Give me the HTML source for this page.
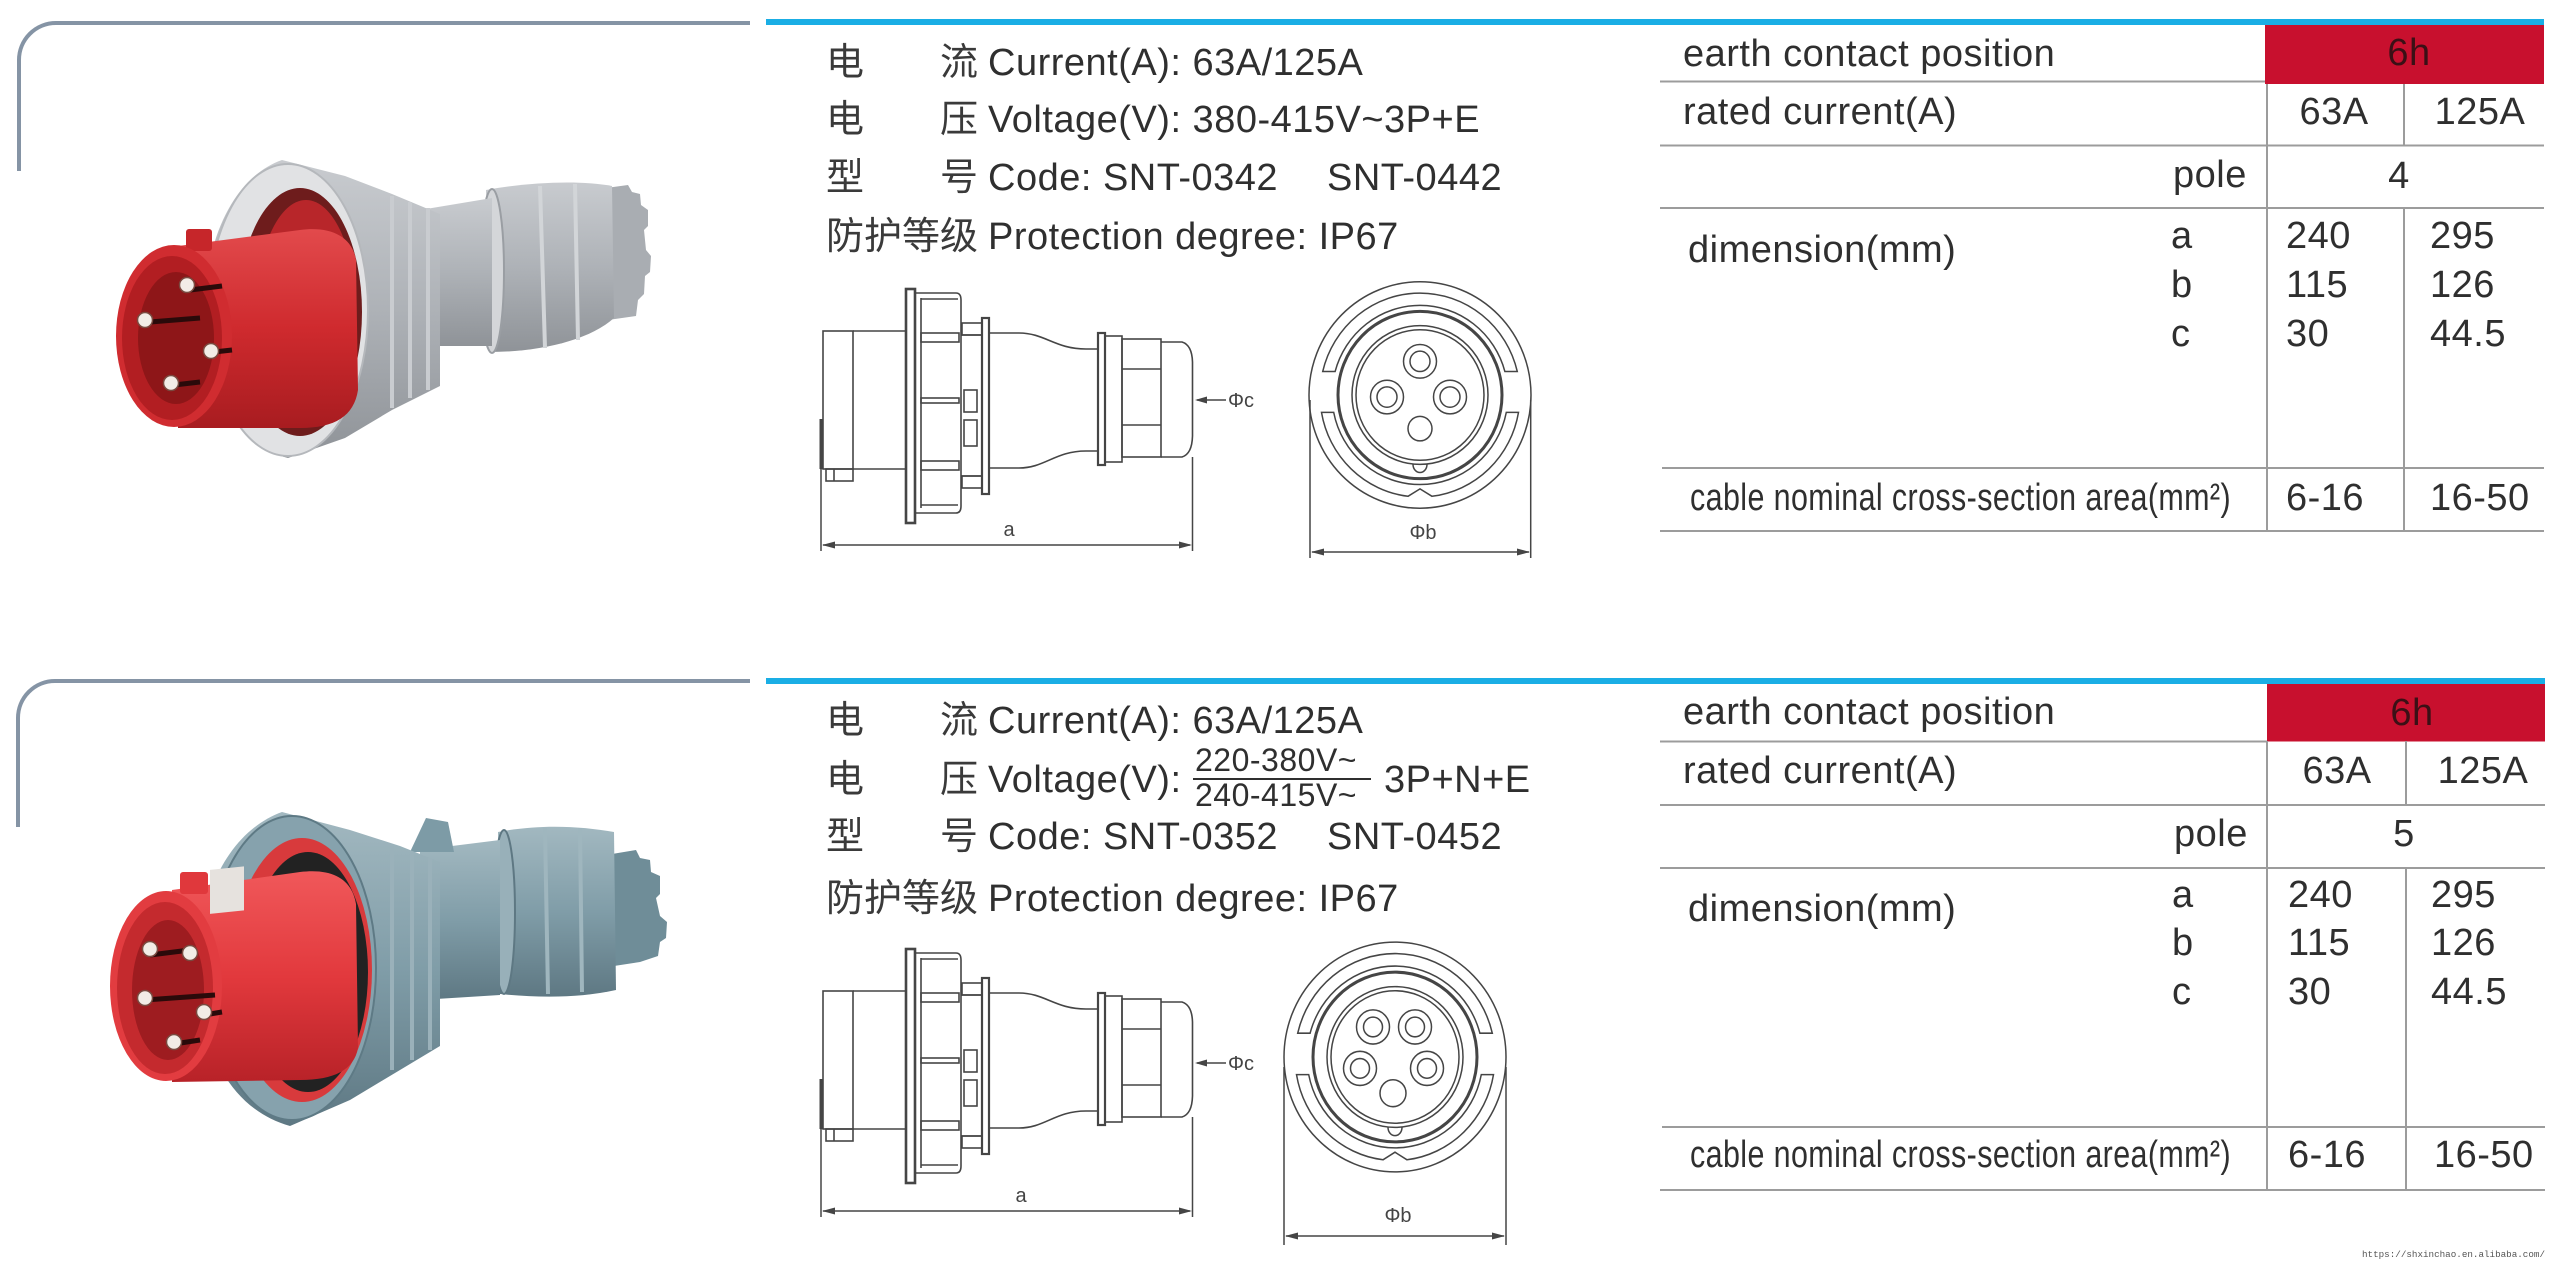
<!DOCTYPE html>
<html>
<head>
<meta charset="utf-8">
<style>
  html,body{margin:0;padding:0;background:#fff;}
  body{width:2560px;height:1261px;overflow:hidden;position:relative;}
  svg{position:absolute;left:0;top:0;}
  .t{font-family:"Liberation Sans","Noto Sans CJK SC",sans-serif;font-size:38px;fill:#2f2f2f;letter-spacing:0.5px;}
  .cj{font-family:"Liberation Sans","Noto Sans CJK SC",sans-serif;font-size:38px;fill:#3a3a3a;}
  .sm{font-family:"Liberation Sans",sans-serif;font-size:20px;fill:#444;}
  .mid{text-anchor:middle;}
</style>
</head>
<body>
<svg width="2560" height="1261" viewBox="0 0 2560 1261" xmlns="http://www.w3.org/2000/svg">
  <defs>
    <linearGradient id="gG" x1="0" y1="0" x2="0" y2="1">
      <stop offset="0" stop-color="#c8cbcf"/>
      <stop offset="0.5" stop-color="#aeb2b7"/>
      <stop offset="1" stop-color="#8f9398"/>
    </linearGradient>
    <linearGradient id="gB" x1="0" y1="0" x2="0" y2="1">
      <stop offset="0" stop-color="#a2b8c0"/>
      <stop offset="0.5" stop-color="#809da8"/>
      <stop offset="1" stop-color="#5e7883"/>
    </linearGradient>
    <linearGradient id="gR" x1="0" y1="0" x2="0" y2="1">
      <stop offset="0" stop-color="#e24a4c"/>
      <stop offset="0.5" stop-color="#cf2a2e"/>
      <stop offset="1" stop-color="#a81c20"/>
    </linearGradient>
    <linearGradient id="gR2" x1="0" y1="0" x2="0" y2="1">
      <stop offset="0" stop-color="#f0585a"/>
      <stop offset="0.5" stop-color="#e2393d"/>
      <stop offset="1" stop-color="#b82228"/>
    </linearGradient>
  </defs>

  <!-- ============ FRAMES / HEADER LINES ============ -->
  <path d="M19 171 V60 A37 37 0 0 1 56 23 H750" fill="none" stroke="#8594a5" stroke-width="4"/>
  <path d="M18 827 V718 A37 37 0 0 1 55 681 H750" fill="none" stroke="#8594a5" stroke-width="4"/>
  <rect x="766" y="19" width="1778" height="6" fill="#1aaee5"/>
  <rect x="766" y="678" width="1779" height="6" fill="#1aaee5"/>

  <!-- ============ PLUG 1 (grey/red) ============ -->
  <g>
    <path d="M606 188 L628 185 L632 192 L640 194 L641 205 L648 210 L648 226 L644 230 L646 250 L651 256 L650 272 L645 276 L644 294 L638 300 L636 316 L608 320 Z" fill="#a9adb2"/>
    <path d="M486 190 C530 182 580 180 612 186 L614 318 C590 340 540 352 490 352 Z" fill="url(#gG)"/>
    <path d="M540 186 L545 348 M575 184 L578 340" stroke="#d2d5d8" stroke-width="4" fill="none"/>
    <ellipse cx="492" cy="271" rx="12" ry="82" fill="#d4d6d9" stroke="#9a9ea3" stroke-width="2"/>
    <path d="M420 210 L492 198 L492 346 L420 346 Z" fill="url(#gG)"/>
    <path d="M282 160 C236 176 205 236 205 310 C205 388 238 446 288 458 L345 438 L392 410 L440 386 L440 214 L392 194 L345 176 Z" fill="url(#gG)"/>
    <path d="M392 196 L392 408 M410 202 L410 398 M428 208 L428 390" stroke="#c9ccd0" stroke-width="4" fill="none"/>
    <ellipse cx="288" cy="310" rx="80" ry="146" fill="#e1e2e4" stroke="#b5b8bc" stroke-width="2"/>
    <ellipse cx="300" cy="312" rx="62" ry="124" fill="#6e1c1c"/>
    <ellipse cx="306" cy="312" rx="50" ry="112" fill="#b8262a"/>
    <path d="M178 246 L300 230 C330 226 352 236 356 260 L358 390 C354 416 335 428 300 428 L178 428 Z" fill="url(#gR)"/>
    <rect x="186" y="229" width="26" height="22" rx="3" fill="#c6262a"/>
    <ellipse cx="174" cy="336" rx="58" ry="91" fill="#d02c30"/>
    <ellipse cx="172" cy="338" rx="50" ry="82" fill="#b21e22"/>
    <ellipse cx="176" cy="338" rx="38" ry="66" fill="#8e1618"/>
    <path d="M190 290 L222 286 M150 322 L200 318 M214 352 L232 350 M174 385 L200 382" stroke="#2a0a0a" stroke-width="5"/>
    <circle cx="187" cy="285" r="7.5" fill="#f2ece6" stroke="#7a4a40" stroke-width="1.5"/>
    <circle cx="145" cy="320" r="7.5" fill="#f2ece6" stroke="#7a4a40" stroke-width="1.5"/>
    <circle cx="211" cy="351" r="7.5" fill="#f2ece6" stroke="#7a4a40" stroke-width="1.5"/>
    <circle cx="171" cy="383" r="7.5" fill="#f2ece6" stroke="#7a4a40" stroke-width="1.5"/>
  </g>

  <!-- ============ PLUG 2 (blue-grey/red) ============ -->
  <g>
    <path d="M612 854 L636 850 L640 858 L650 860 L651 872 L660 876 L660 894 L656 898 L660 916 L667 922 L666 938 L660 942 L658 956 L640 962 L614 966 Z" fill="#6f8d98"/>
    <path d="M498 832 C540 824 580 826 614 832 L616 990 C580 998 540 998 500 994 Z" fill="url(#gB)"/>
    <path d="M545 828 L548 994 M580 828 L582 992" stroke="#9fb6be" stroke-width="4" fill="none"/>
    <ellipse cx="504" cy="912" rx="11" ry="82" fill="#98b0b9" stroke="#5e7883" stroke-width="2"/>
    <path d="M420 850 L500 840 L500 995 L420 1000 Z" fill="url(#gB)"/>
    <path d="M410 852 L426 818 L448 822 L454 852 Z" fill="#7d9ba6"/>
    <path d="M282 812 C232 830 198 890 198 968 C198 1050 232 1110 290 1126 L350 1100 L400 1070 L440 1046 L440 862 L400 846 L350 830 Z" fill="url(#gB)"/>
    <path d="M392 846 L392 1070 M412 852 L412 1060 M430 858 L430 1050" stroke="#9ab1ba" stroke-width="4" fill="none"/>
    <ellipse cx="292" cy="968" rx="84" ry="152" fill="#86a2ad" stroke="#5e7a85" stroke-width="2"/>
    <ellipse cx="302" cy="970" rx="70" ry="132" fill="#d83a3c"/>
    <ellipse cx="308" cy="972" rx="60" ry="120" fill="#222"/>
    <path d="M172 890 L300 872 C334 868 352 880 356 904 L358 1048 C354 1070 334 1080 300 1080 L172 1082 Z" fill="url(#gR2)"/>
    <rect x="180" y="872" width="28" height="22" rx="3" fill="#e0383c"/>
    <rect x="210" y="892" width="34" height="44" fill="#e6e2de" transform="skewY(-6)"/>
    <ellipse cx="166" cy="986" rx="56" ry="95" fill="#e23c40"/>
    <ellipse cx="165" cy="988" rx="48" ry="86" fill="#c42a2e"/>
    <ellipse cx="168" cy="990" rx="36" ry="70" fill="#9e1c20"/>
    <path d="M150 955 L190 950 M145 1000 L215 995 M204 1015 L222 1012 M174 1044 L200 1040" stroke="#2a0a0a" stroke-width="5"/>
    <circle cx="150" cy="949" r="7.5" fill="#f2ece6" stroke="#7a4a40" stroke-width="1.5"/>
    <circle cx="190" cy="953" r="7.5" fill="#f2ece6" stroke="#7a4a40" stroke-width="1.5"/>
    <circle cx="145" cy="998" r="7.5" fill="#f2ece6" stroke="#7a4a40" stroke-width="1.5"/>
    <circle cx="204" cy="1012" r="7.5" fill="#f2ece6" stroke="#7a4a40" stroke-width="1.5"/>
    <circle cx="174" cy="1042" r="7.5" fill="#f2ece6" stroke="#7a4a40" stroke-width="1.5"/>
  </g>

  <!-- ============ SIDE DRAWING (top & bottom) ============ -->
  <g id="side" fill="none" stroke="#454545" stroke-width="1.6">
    <rect x="823" y="331" width="30" height="138"/>
    <line x1="853" y1="331" x2="906" y2="331"/>
    <line x1="853" y1="469" x2="906" y2="469"/>
    <rect x="826" y="469" width="27" height="12"/>
    <line x1="834" y1="469" x2="834" y2="481"/>
    <line x1="821" y1="419" x2="821" y2="469" stroke-width="3"/>
    <rect x="906" y="289" width="9" height="234" stroke-width="2.6"/>
    <path d="M915 293 H956 Q961 293 961 300 V506 Q961 513 956 513 H915"/>
    <line x1="921" y1="298" x2="921" y2="508"/>
    <line x1="921" y1="299" x2="958" y2="299"/>
    <rect x="921" y="333" width="38" height="9"/>
    <rect x="921" y="398" width="38" height="5"/>
    <rect x="921" y="461" width="38" height="9"/>
    <line x1="921" y1="505" x2="958" y2="505"/>
    <rect x="962" y="323" width="20" height="12"/>
    <rect x="962" y="476" width="20" height="12"/>
    <line x1="961" y1="335" x2="982" y2="335"/>
    <line x1="961" y1="476" x2="982" y2="476"/>
    <rect x="964" y="390" width="13" height="22"/>
    <rect x="964" y="420" width="13" height="26"/>
    <rect x="982" y="318" width="7" height="176" stroke-width="2.2"/>
    <path d="M989 333 H1019 C1045 333 1055 349 1086 349 H1098"/>
    <path d="M989 468 H1019 C1045 468 1055 451 1086 451 H1098"/>
    <rect x="1098" y="333" width="7" height="132" stroke-width="2.2"/>
    <rect x="1105" y="336" width="17" height="126"/>
    <rect x="1122" y="339" width="39" height="118"/>
    <line x1="1122" y1="369" x2="1161" y2="369"/>
    <line x1="1122" y1="425" x2="1161" y2="425"/>
    <path d="M1161 342 H1182 Q1192 345 1192.5 362 V436 Q1192 454 1182 457 H1161"/>
  </g>
  <use href="#side" transform="translate(0 660)"/>

  <!-- dimension a (top) -->
  <g stroke="#454545" stroke-width="1.5" fill="none">
    <line x1="821" y1="469" x2="821" y2="551"/>
    <line x1="1192.5" y1="457" x2="1192.5" y2="551"/>
    <line x1="823" y1="545" x2="1190" y2="545"/>
    <line x1="1197" y1="400" x2="1226" y2="400"/>
    <!-- bottom -->
    <line x1="821" y1="1129" x2="821" y2="1217"/>
    <line x1="1192.5" y1="1117" x2="1192.5" y2="1217"/>
    <line x1="823" y1="1211" x2="1190" y2="1211"/>
    <line x1="1197" y1="1063" x2="1226" y2="1063"/>
  </g>
  <g fill="#454545">
    <path d="M822 545 L835 541.5 L835 548.5 Z"/>
    <path d="M1192 545 L1179 541.5 L1179 548.5 Z"/>
    <path d="M1195 400 L1207 396.5 L1207 403.5 Z"/>
    <path d="M822 1211 L835 1207.5 L835 1214.5 Z"/>
    <path d="M1192 1211 L1179 1207.5 L1179 1214.5 Z"/>
    <path d="M1195 1063 L1207 1059.5 L1207 1066.5 Z"/>
  </g>
  <text class="sm mid" x="1009" y="536">a</text>
  <text class="sm" x="1228" y="407">Φc</text>
  <text class="sm mid" x="1021" y="1202">a</text>
  <text class="sm" x="1228" y="1070">Φc</text>

  <!-- ============ FRONT CIRCLE (top, 4 pins) ============ -->
  <g fill="none" stroke="#454545" stroke-width="1.5" transform="translate(1420 395) scale(1 1.02)">
    <circle r="111"/>
    <path d="M-97.3 -23 A100 100 0 0 1 97.3 -23 L84.9 -23 A88 88 0 0 0 -84.9 -23 Z"/>
    <path d="M-98.5 17 A100 100 0 0 0 -12 99.3 L0 92 L12 99.3 A100 100 0 0 0 98.5 17 L86.3 17 A88 88 0 0 1 -86.3 17 Z"/>
    <circle r="82" stroke-width="3"/>
    <circle r="68"/>
    <circle r="64"/>
    <circle cx="0" cy="-33" r="16.5"/><circle cx="0" cy="-33" r="10"/>
    <circle cx="-33" cy="2" r="16.5"/><circle cx="-33" cy="2" r="10"/>
    <circle cx="30" cy="2" r="16.5"/><circle cx="30" cy="2" r="10"/>
    <circle cx="0" cy="33" r="12"/>
    <path d="M-7 68 A7 8 0 0 0 7 68"/>
  </g>
  <g stroke="#454545" stroke-width="1.5">
    <line x1="1310" y1="400" x2="1310" y2="558"/>
    <line x1="1530.7" y1="400" x2="1530.7" y2="558"/>
    <line x1="1312" y1="552" x2="1529" y2="552"/>
  </g>
  <g fill="#454545">
    <path d="M1311 552 L1324 548.5 L1324 555.5 Z"/>
    <path d="M1530 552 L1517 548.5 L1517 555.5 Z"/>
  </g>
  <text class="sm mid" x="1423" y="539">Φb</text>

  <!-- ============ FRONT CIRCLE (bottom, 5 pins) ============ -->
  <g fill="none" stroke="#454545" stroke-width="1.5" transform="translate(1395 1057) scale(1 1.035)">
    <circle r="111"/>
    <path d="M-97.3 -23 A100 100 0 0 1 97.3 -23 L84.9 -23 A88 88 0 0 0 -84.9 -23 Z"/>
    <path d="M-98.5 17 A100 100 0 0 0 -12 99.3 L0 92 L12 99.3 A100 100 0 0 0 98.5 17 L86.3 17 A88 88 0 0 1 -86.3 17 Z"/>
    <circle r="82" stroke-width="3"/>
    <circle r="68"/>
    <circle r="64"/>
    <circle cx="-22" cy="-29" r="16.5"/><circle cx="-22" cy="-29" r="9.5"/>
    <circle cx="20" cy="-29" r="16.5"/><circle cx="20" cy="-29" r="9.5"/>
    <circle cx="-35" cy="11" r="16.5"/><circle cx="-35" cy="11" r="9.5"/>
    <circle cx="32" cy="11" r="16.5"/><circle cx="32" cy="11" r="9.5"/>
    <circle cx="-2" cy="35" r="13"/>
    <path d="M-7 68 A7 8 0 0 0 7 68"/>
  </g>
  <g stroke="#454545" stroke-width="1.5">
    <line x1="1284" y1="1067" x2="1284" y2="1245"/>
    <line x1="1506" y1="1067" x2="1506" y2="1245"/>
    <line x1="1286" y1="1236" x2="1504" y2="1236"/>
  </g>
  <g fill="#454545">
    <path d="M1285 1236 L1298 1232.5 L1298 1239.5 Z"/>
    <path d="M1505 1236 L1492 1232.5 L1492 1239.5 Z"/>
  </g>
  <text class="sm mid" x="1398" y="1222">Φb</text>

  <!-- ============ SPEC TEXT TOP ============ -->
  <text class="cj" x="826" y="75">电</text><text class="cj" x="940" y="75">流</text>
  <text class="t" x="988" y="75">Current(A): 63A/125A</text>
  <text class="cj" x="826" y="132">电</text><text class="cj" x="940" y="132">压</text>
  <text class="t" x="988" y="132">Voltage(V): 380-415V~3P+E</text>
  <text class="cj" x="826" y="190">型</text><text class="cj" x="940" y="190">号</text>
  <text class="t" x="988" y="190">Code: SNT-0342</text>
  <text class="t" x="1327" y="190">SNT-0442</text>
  <text class="cj" x="826" y="249">防护等级</text>
  <text class="t" x="988" y="249">Protection degree: IP67</text>

  <!-- ============ SPEC TEXT BOTTOM ============ -->
  <text class="cj" x="826" y="733">电</text><text class="cj" x="940" y="733">流</text>
  <text class="t" x="988" y="733">Current(A): 63A/125A</text>
  <text class="cj" x="826" y="792">电</text><text class="cj" x="940" y="792">压</text>
  <text class="t" x="988" y="792">Voltage(V):</text>
  <text class="t" x="1195" y="771" style="font-size:32px">220-380V~</text>
  <line x1="1193" y1="779" x2="1371" y2="779" stroke="#2f2f2f" stroke-width="2"/>
  <text class="t" x="1195" y="806" style="font-size:32px">240-415V~</text>
  <text class="t" x="1384" y="792">3P+N+E</text>
  <text class="cj" x="826" y="849">型</text><text class="cj" x="940" y="849">号</text>
  <text class="t" x="988" y="849">Code: SNT-0352</text>
  <text class="t" x="1327" y="849">SNT-0452</text>
  <text class="cj" x="826" y="911">防护等级</text>
  <text class="t" x="988" y="911">Protection degree: IP67</text>

  <!-- ============ TABLE TOP ============ -->
  <rect x="2265" y="25" width="279" height="59" fill="#c8102e"/>
  <g stroke="#9c9c9c" stroke-width="2">
    <line x1="1660" y1="81.5" x2="2265" y2="81.5"/>
    <line x1="1660" y1="145.5" x2="2544" y2="145.5"/>
    <line x1="1660" y1="208" x2="2544" y2="208"/>
    <line x1="1662" y1="468" x2="2544" y2="468"/>
    <line x1="1660" y1="531" x2="2544" y2="531"/>
    <line x1="2267" y1="84" x2="2267" y2="531"/>
    <line x1="2404" y1="84" x2="2404" y2="145.5"/>
    <line x1="2404" y1="208" x2="2404" y2="531"/>
  </g>
  <text class="t" x="1683" y="66">earth contact position</text>
  <text class="t mid" x="2409" y="65" style="fill:#3b1016">6h</text>
  <text class="t" x="1683" y="124">rated current(A)</text>
  <text class="t mid" x="2334" y="124">63A</text>
  <text class="t mid" x="2480" y="124">125A</text>
  <text class="t" x="2173" y="187">pole</text>
  <text class="t mid" x="2399" y="188">4</text>
  <text class="t" x="1688" y="262">dimension(mm)</text>
  <text class="t" x="2171" y="248">a</text>
  <text class="t" x="2171" y="297">b</text>
  <text class="t" x="2171" y="346">c</text>
  <text class="t" x="2286" y="248">240</text>
  <text class="t" x="2286" y="297">115</text>
  <text class="t" x="2286" y="346">30</text>
  <text class="t" x="2430" y="248">295</text>
  <text class="t" x="2430" y="297">126</text>
  <text class="t" x="2430" y="346">44.5</text>
  <text class="t" x="1690" y="510" textLength="541" lengthAdjust="spacingAndGlyphs">cable nominal cross-section area(mm²)</text>
  <text class="t" x="2286" y="510">6-16</text>
  <text class="t" x="2430" y="510">16-50</text>

  <!-- ============ TABLE BOTTOM ============ -->
  <rect x="2267" y="684" width="278" height="57.5" fill="#c8102e"/>
  <g stroke="#9c9c9c" stroke-width="2">
    <line x1="1660" y1="741.5" x2="2267" y2="741.5"/>
    <line x1="1660" y1="805" x2="2545" y2="805"/>
    <line x1="1660" y1="868" x2="2545" y2="868"/>
    <line x1="1662" y1="1127" x2="2545" y2="1127"/>
    <line x1="1660" y1="1190" x2="2545" y2="1190"/>
    <line x1="2267" y1="741" x2="2267" y2="1190"/>
    <line x1="2406" y1="741" x2="2406" y2="805"/>
    <line x1="2406" y1="868" x2="2406" y2="1190"/>
  </g>
  <text class="t" x="1683" y="724">earth contact position</text>
  <text class="t mid" x="2412" y="725" style="fill:#3b1016">6h</text>
  <text class="t" x="1683" y="783">rated current(A)</text>
  <text class="t mid" x="2337" y="783">63A</text>
  <text class="t mid" x="2483" y="783">125A</text>
  <text class="t" x="2174" y="846">pole</text>
  <text class="t mid" x="2404" y="846">5</text>
  <text class="t" x="1688" y="921">dimension(mm)</text>
  <text class="t" x="2172" y="907">a</text>
  <text class="t" x="2172" y="955">b</text>
  <text class="t" x="2172" y="1004">c</text>
  <text class="t" x="2288" y="907">240</text>
  <text class="t" x="2288" y="955">115</text>
  <text class="t" x="2288" y="1004">30</text>
  <text class="t" x="2431" y="907">295</text>
  <text class="t" x="2431" y="955">126</text>
  <text class="t" x="2431" y="1004">44.5</text>
  <text class="t" x="1690" y="1167" textLength="541" lengthAdjust="spacingAndGlyphs">cable nominal cross-section area(mm²)</text>
  <text class="t" x="2288" y="1167">6-16</text>
  <text class="t" x="2434" y="1167">16-50</text>

  <!-- watermark -->
  <text x="2362" y="1257" textLength="183" lengthAdjust="spacingAndGlyphs" style="font-family:'Liberation Mono',monospace;font-size:9.5px;fill:#555">https://shxinchao.en.alibaba.com/</text>
</svg>
</body>
</html>
